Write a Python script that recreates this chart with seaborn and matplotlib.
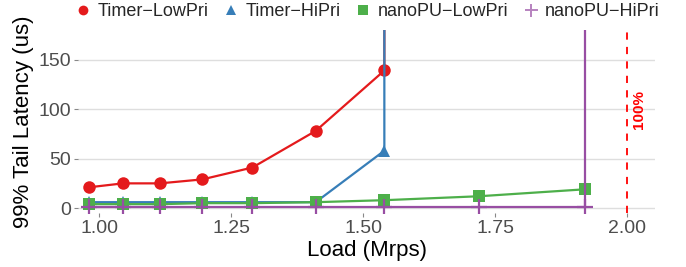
import numpy as np
import pandas as pd
import matplotlib
matplotlib.use("Agg")
import matplotlib.pyplot as plt
import seaborn as sns

# --- datos ---
timer_load = [0.98, 1.045, 1.115, 1.195, 1.29, 1.41, 1.54, 1.54]
timer_low = [21, 25, 25, 29, 41, 78, 139, 1000]
timer_hi = [6, 6, 6, 6, 6, 6, 58, 1000]

nanopu_load = [0.98, 1.045, 1.115, 1.195, 1.29, 1.41, 1.54, 1.72, 1.92, 1.92]
nanopu_low = [4, 4, 4, 5, 5, 6, 8, 12, 19, 19]
nanopu_hi = [1, 1, 1, 1, 1, 1, 1, 1, 1, 1000]

x_ticks = [1.00, 1.25, 1.50, 1.75, 2.00]
y_ticks = [0, 50, 100, 150]

sns.set_theme(style="white")
plt.rcParams['font.family'] = ['Liberation Sans', 'DejaVu Sans']

series = [
    ("Timer\u2212LowPri", timer_load, timer_low, "#E41A1C", "o", 9),
    ("Timer\u2212HiPri", timer_load, timer_hi, "#377EB8", "^", 9),
    ("nanoPU\u2212LowPri", nanopu_load, nanopu_low, "#4DAF4A", "s", 8.5),
    ("nanoPU\u2212HiPri", nanopu_load, nanopu_hi, "#984EA3", "+", 12),
]

fig, ax = plt.subplots(figsize=(6.86, 2.67), dpi=100)
fig.subplots_adjust(left=0.114, right=0.955, top=0.888, bottom=0.202)

handles = []
for name, xs, ys, col, mk, ms in series:
    df = pd.DataFrame({"load": xs, "lat": ys})
    sns.lineplot(data=df, x="load", y="lat", ax=ax, color=col, lw=1.6,
                 marker=mk, markersize=ms, markeredgewidth=1.6 if mk == "+" else 0,
                 markeredgecolor=col, sort=False, estimator=None)
    h, = ax.plot([], [], ls="none", marker=mk, color=col, markersize=ms * 0.78,
                 markeredgewidth=1.4 if mk == "+" else 0, markeredgecolor=col,
                 alpha=0.7 if mk == "+" else 1)
    handles.append((h, name))

ax.axvline(2.0, color="red", ls=(0, (4, 4)), lw=1.3)
ax.text(2.022, 100, "100%", rotation=90, color="red", fontsize=11,
        fontweight="bold", ha="center", va="center")

ax.set_xlim(0.96, 2.053)
ax.set_ylim(-5, 180)
ax.set_xticks(x_ticks)
ax.set_xticklabels([f"{v:.2f}" for v in x_ticks])
ax.set_yticks(y_ticks)
ax.grid(axis="y", color="#DEDEDE", lw=1)
ax.grid(axis="x", visible=False)
for s in ax.spines.values():
    s.set_visible(False)
ax.tick_params(axis="both", colors="#888888", labelcolor="#4D4D4D", labelsize=14,
               length=3, width=0.8, pad=2, left=True, bottom=True)
ax.set_xlabel("Load (Mrps)", fontsize=16, color="black", labelpad=2)
ax.set_ylabel("99% Tail Latency (us)", fontsize=16, color="black", labelpad=3)

fig.legend([h for h, _ in handles], [n for _, n in handles], loc="upper center",
           bbox_to_anchor=(0.535, 1.05), ncol=4, frameon=False, fontsize=13,
           handletextpad=0.3, columnspacing=0.75, handlelength=1.0)

fig.savefig("out.png", dpi=100)
